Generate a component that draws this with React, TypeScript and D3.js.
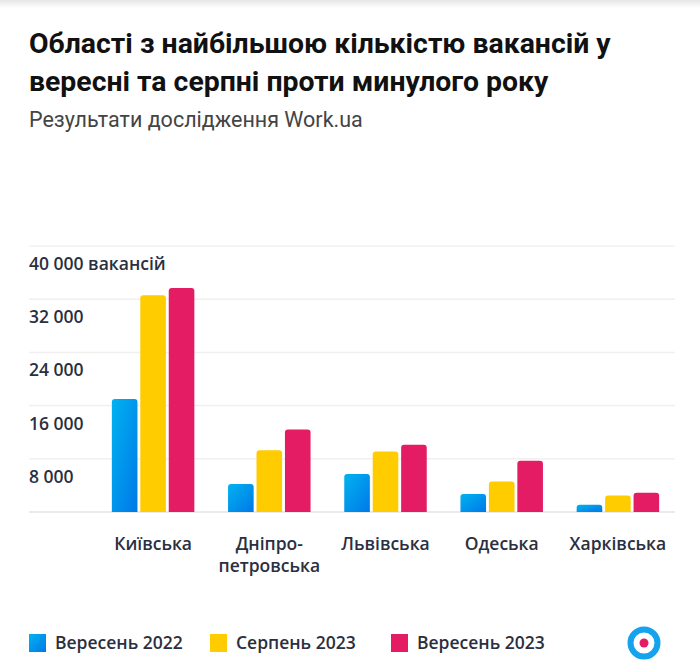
import React from "react";
import * as d3 from "d3";

const categories = ["Київська", "Дніпро-\nпетровська", "Львівська", "Одеська", "Харківська"];
const seriesNames = ["Вересень 2022", "Серпень 2023", "Вересень 2023"];
const sep2022 = [17000, 4200, 5700, 2700, 1100];
const aug2023 = [32600, 9300, 9100, 4600, 2500];
const sep2023 = [33700, 12400, 10100, 7700, 2900];
const yTicks = [0, 8000, 16000, 24000, 32000, 40000];
const colors = ["#0A9BEE", "#FFCC00", "#E31C63"];

const W = 700;
const H = 667;
const LBL = "'Open Sans'";
const INK = "#2B2F40";

export default function App() {
  const series = [sep2022, aug2023, sep2023];
  const x0 = d3.scaleBand<string>().domain(categories).range([95, 676]).paddingInner(0.29).paddingOuter(0.145);
  const x1 = d3.scaleBand<string>().domain(seriesNames).range([0, x0.bandwidth()]).paddingInner(0.1);
  const y = d3.scaleLinear().domain([0, 40000]).range([512, 246]);
  const fmt = (v: number) => d3.format(",")(v).replace(/,/g, " ");
  const r = 3;
  const barPath = (x: number, yTop: number, w: number, yBot: number) => {
    const rr = Math.min(r, (yBot - yTop) / 2, w / 2);
    return `M${x},${yBot}V${yTop + rr}Q${x},${yTop} ${x + rr},${yTop}H${x + w - rr}Q${x + w},${yTop} ${x + w},${yTop + rr}V${yBot}Z`;
  };
  return (
    <svg width={W} height={H} style={{ position: "absolute", left: 0, top: 0, background: "#fff" }}>
      <defs>
        <linearGradient id="blueGrad" x1="0" y1="0" x2="1" y2="1">
          <stop offset="0%" stopColor="#00B3F0" />
          <stop offset="100%" stopColor="#0078E8" />
        </linearGradient>
        <linearGradient id="topShade" x1="0" y1="0" x2="0" y2="1">
          <stop offset="0%" stopColor="#e6e6e6" />
          <stop offset="100%" stopColor="#ffffff" />
        </linearGradient>
      </defs>
      <rect x={0} y={0} width={W} height={8} fill="url(#topShade)" />
      <text x={29} y={53} fontFamily="Roboto" fontWeight={700} fontSize={28.4} fill="#111">
        Області з найбільшою кількістю вакансій у
      </text>
      <text x={29} y={91} fontFamily="Roboto" fontWeight={700} fontSize={28.4} fill="#111">
        вересні та серпні проти минулого року
      </text>
      <text x={29} y={127} fontFamily="Roboto" fontSize={21.5} fill="#444">
        Результати дослідження Work.ua
      </text>
      {yTicks.map((t) => (
        <line key={t} x1={29} x2={675} y1={y(t)} y2={y(t)} stroke={t === 0 ? "#e4e4e4" : "#f0f0f0"} strokeWidth={1.5} />
      ))}
      {yTicks.filter((t) => t > 0).map((t) => (
        <text key={t} x={29} y={y(t) + 24} fontFamily={LBL} fontWeight={600} fontSize={17.5} fill={INK}>
          {fmt(t)}
          {t === 40000 ? " вакансій" : ""}
        </text>
      ))}
      {categories.map((c, i) => (
        <g key={c} transform={`translate(${x0(c)},0)`}>
          {series.map((s, j) => {
            const bx = x1(seriesNames[j])!;
            return (
              <path
                key={j}
                d={barPath(bx, y(s[i]), x1.bandwidth(), y(0))}
                fill={j === 0 ? "url(#blueGrad)" : colors[j]}
              />
            );
          })}
          {c.split("\n").map((line, k) => (
            <text
              key={k}
              x={x0.bandwidth() / 2}
              y={550 + k * 22}
              textAnchor="middle"
              fontFamily={LBL}
              fontWeight={600}
              fontSize={17.5}
              fill={INK}
            >
              {line}
            </text>
          ))}
        </g>
      ))}
      {seriesNames.map((n, j) => {
        const lx = [29, 210, 391][j];
        return (
          <g key={n}>
            <rect x={lx} y={634} width={17} height={18} fill={j === 0 ? "url(#blueGrad)" : colors[j]} />
            <text x={lx + 26} y={649} fontFamily={LBL} fontWeight={600} fontSize={17.5} fill={INK}>
              {n}
            </text>
          </g>
        );
      })}
      <circle cx={644} cy={643} r={13.5} fill="none" stroke="#14A3EC" strokeWidth={6} />
      <circle cx={644} cy={643} r={4.5} fill="#E31C63" />
    </svg>
  );
}
